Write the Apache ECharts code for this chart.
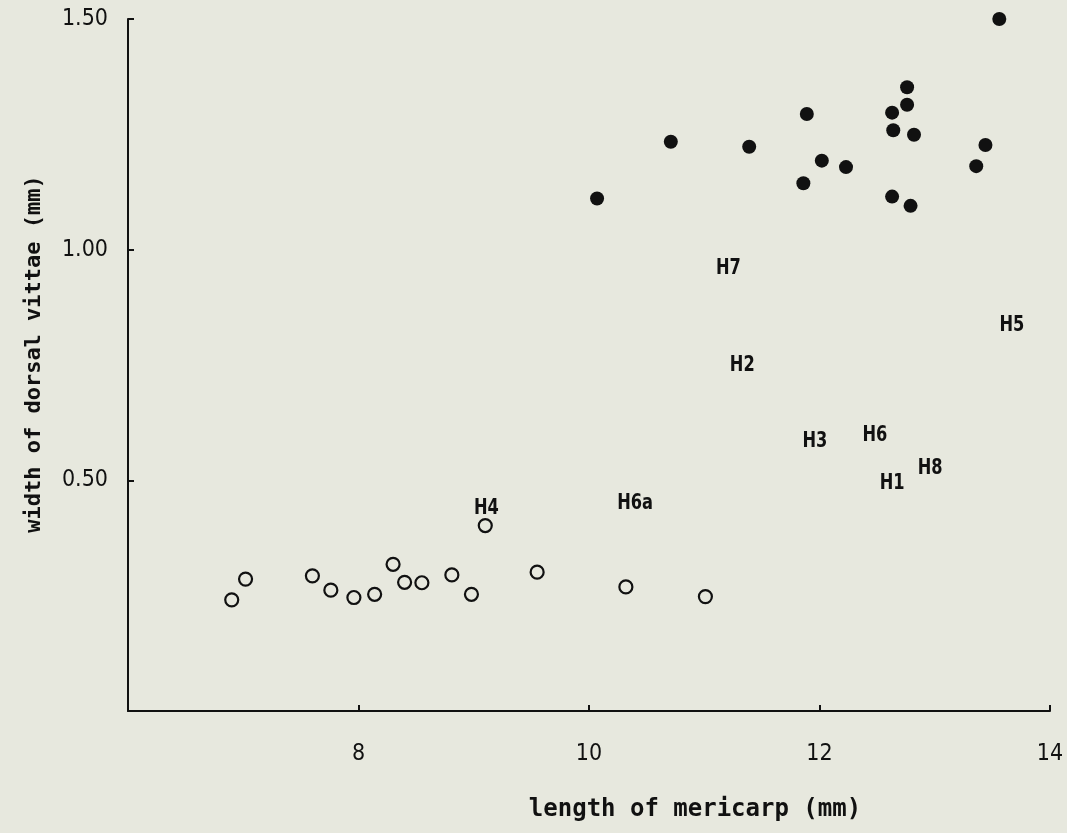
<!DOCTYPE html>
<html>
<head>
<meta charset="utf-8">
<script src="https://cdn.jsdelivr.net/npm/echarts@6/dist/echarts.min.js"></script>
<style>
html,body{margin:0;padding:0;background:#e7e8de;}
#chart{width:1067px;height:833px;}
</style>
</head>
<body>
<div id="chart"></div>
<script>
// Filled circles
const filledX = [10.07, 10.71, 11.39, 11.89, 12.02, 12.23, 11.86, 12.76, 12.76, 12.63, 12.64, 12.82, 12.63, 12.79, 13.44, 13.36, 14.03, 13.56];
const filledY = [1.111, 1.234, 1.223, 1.294, 1.193, 1.179, 1.144, 1.352, 1.314, 1.297, 1.259, 1.249, 1.115, 1.095, 1.227, 1.181, 1.317, 1.500];
// Open circles
const openX = [6.90, 7.02, 7.60, 7.76, 7.96, 8.14, 8.30, 8.40, 8.55, 8.81, 8.98, 9.55, 10.32, 11.01, 9.10];
const openY = [0.241, 0.286, 0.293, 0.262, 0.246, 0.253, 0.318, 0.279, 0.278, 0.295, 0.253, 0.301, 0.269, 0.248, 0.402];
// Hybrid labels
const hybridNames = ['H7', 'H5', 'H2', 'H3', 'H6', 'H8', 'H1', 'H6a', 'H4'];
const hybridX = [11.21, 13.67, 11.33, 11.96, 12.48, 12.96, 12.63, 10.40, 9.11];
const hybridY = [0.960, 0.837, 0.750, 0.585, 0.598, 0.527, 0.494, 0.450, 0.439];
// Axis
const xTicks = [8, 10, 12, 14];
const yTicks = ['0.50', '1.00', '1.50'];
const xTitle = 'length of mericarp (mm)';
const yTitle = 'width of dorsal vittae (mm)';

const ink = '#111111';
const tickFont = "'DejaVu Sans Condensed', sans-serif";
const titleFont = "'DejaVu Sans Mono', monospace";

const chart = echarts.init(document.getElementById('chart'), null, {renderer: 'canvas'});
chart.setOption({
  backgroundColor: '#e7e8de',
  animation: false,
  grid: {left: 128, right: 17, top: 19, bottom: 122, containLabel: false, outerBoundsMode: 'none'},
  xAxis: {
    type: 'value', min: 6, max: 14, interval: 2,
    axisLine: {show: true, onZero: false, lineStyle: {color: ink, width: 2}},
    axisTick: {show: true, inside: true, length: 6, lineStyle: {color: ink, width: 2}},
    splitLine: {show: false},
    axisLabel: {
      margin: 32, color: ink, fontSize: 23, fontFamily: tickFont,
      formatter: v => xTicks.indexOf(v) >= 0 ? String(v) : ''
    }
  },
  yAxis: {
    type: 'value', min: 0, max: 1.5, interval: 0.5,
    axisLine: {show: true, onZero: false, lineStyle: {color: ink, width: 2}},
    axisTick: {show: true, inside: true, length: 6, lineStyle: {color: ink, width: 2}},
    splitLine: {show: false},
    axisLabel: {
      margin: 20, color: ink, fontSize: 23, fontFamily: tickFont,
      formatter: v => { const s = v.toFixed(2); return yTicks.indexOf(s) >= 0 ? s : ''; }
    }
  },
  graphic: [
    {type: 'text', x: 695, y: 810, style: {text: xTitle, fill: ink, font: 'bold 24px ' + titleFont, textAlign: 'center', textVerticalAlign: 'middle'}},
    {type: 'text', x: 34, y: 354, rotation: Math.PI / 2, style: {text: yTitle, fill: ink, font: 'bold 22px ' + titleFont, textAlign: 'center', textVerticalAlign: 'middle'}}
  ],
  series: [
    {
      type: 'scatter', symbol: 'circle', symbolSize: 14,
      itemStyle: {color: ink, opacity: 1},
      data: filledX.map((x, i) => [x, filledY[i]])
    },
    {
      type: 'scatter', symbol: 'circle', symbolSize: 13,
      itemStyle: {color: 'rgba(0,0,0,0)', borderColor: ink, borderWidth: 2.2, opacity: 1},
      data: openX.map((x, i) => [x, openY[i]])
    },
    {
      type: 'custom',
      renderItem: (params, api) => {
        const p = api.coord([api.value(0), api.value(1)]);
        return {
          type: 'text', x: p[0], y: p[1], scaleX: 0.82,
          style: {
            text: hybridNames[params.dataIndex], fill: ink,
            font: 'bold 22px ' + tickFont,
            align: 'center', verticalAlign: 'middle',
            textAlign: 'center', textVerticalAlign: 'middle'
          }
        };
      },
      data: hybridNames.map((n, i) => [hybridX[i], hybridY[i]])
    }
  ]
});
</script>
</body>
</html>
